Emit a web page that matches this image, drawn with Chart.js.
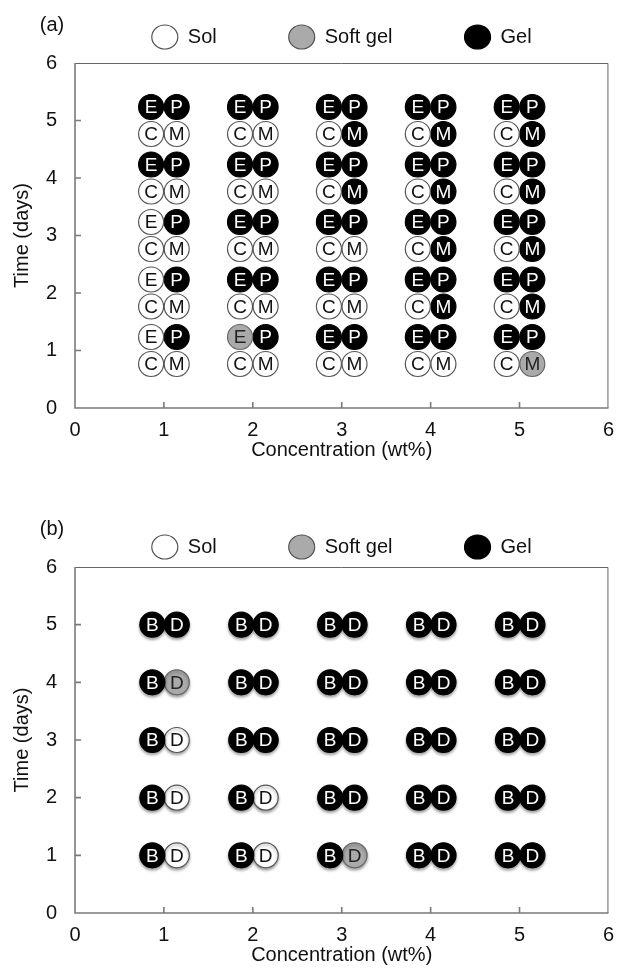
<!DOCTYPE html>
<html>
<head>
<meta charset="utf-8">
<script src="https://cdn.jsdelivr.net/npm/chart.js@4.4.1/dist/chart.umd.min.js"></script>
<style>
  body { margin: 0; background: #fff; }
  canvas { display: block; }
</style>
</head>
<body>
<canvas id="chartA" width="624" height="504"></canvas>
<canvas id="chartB" width="624" height="474"></canvas>
<script>
// concentrations (wt%) and days on the axes
var conc = [1, 2, 3, 4, 5];
var days = [1, 2, 3, 4, 5];
var tickValues = [0, 1, 2, 3, 4, 5, 6];

// state of each sample: one row per concentration, days 1..5
// 0 = sol, 1 = soft gel, 2 = gel
var stateE = [[0, 0, 0, 2, 2], [1, 2, 2, 2, 2], [2, 2, 2, 2, 2], [2, 2, 2, 2, 2], [2, 2, 2, 2, 2]];
var stateP = [[2, 2, 2, 2, 2], [2, 2, 2, 2, 2], [2, 2, 2, 2, 2], [2, 2, 2, 2, 2], [2, 2, 2, 2, 2]];
var stateC = [[0, 0, 0, 0, 0], [0, 0, 0, 0, 0], [0, 0, 0, 0, 0], [0, 0, 0, 0, 0], [0, 0, 0, 0, 0]];
var stateM = [[0, 0, 0, 0, 0], [0, 0, 0, 0, 0], [0, 0, 0, 2, 2], [0, 2, 2, 2, 2], [1, 2, 2, 2, 2]];
var stateB = [[2, 2, 2, 2, 2], [2, 2, 2, 2, 2], [2, 2, 2, 2, 2], [2, 2, 2, 2, 2], [2, 2, 2, 2, 2]];
var stateD = [[0, 0, 0, 1, 2], [0, 0, 2, 2, 2], [1, 2, 2, 2, 2], [2, 2, 2, 2, 2], [2, 2, 2, 2, 2]];

var stateNames = ["Sol", "Soft gel", "Gel"];
var stateFill = ["#ffffff", "#aaaaaa", "#000000"];
var stateBorder = ["#555555", "#666666", "#000000"];
var letterColor = ["#111111", "#222222", "#ffffff"];

var FONT = "'Liberation Sans', Arial, Helvetica, sans-serif";
var TEXT = "#111111";

function sampleDataset(letter, states, dx, dy) {
  var pts = [], flat = [];
  conc.forEach(function (c, i) {
    days.forEach(function (d, j) {
      pts.push({ x: c + dx, y: d + dy });
      flat.push(states[i][j]);
    });
  });
  return {
    label: letter,
    letter: letter,
    states: flat,
    data: pts,
    showLine: false,
    pointRadius: 12.5,
    pointHoverRadius: 12.5,
    pointBorderWidth: 1.2,
    pointBackgroundColor: flat.map(function (s) { return stateFill[s]; }),
    pointBorderColor: flat.map(function (s) { return stateBorder[s]; })
  };
}

// letters inside circles
var lettersPlugin = {
  id: 'letters',
  afterDatasetsDraw: function (chart) {
    var ctx = chart.ctx;
    ctx.save();
    ctx.font = "19px " + FONT;
    ctx.textAlign = 'center';
    ctx.textBaseline = 'middle';
    chart.data.datasets.forEach(function (ds, i) {
      chart.getDatasetMeta(i).data.forEach(function (el, j) {
        ctx.fillStyle = letterColor[ds.states[j]];
        ctx.fillText(ds.letter, el.x, el.y + 1);
      });
    });
    ctx.restore();
  }
};

// box frame and inward ticks
var framePlugin = {
  id: 'frame',
  beforeDatasetsDraw: function (chart) {
    var ctx = chart.ctx, a = chart.chartArea;
    var xs = chart.scales.x, ys = chart.scales.y;
    ctx.save();
    ctx.strokeStyle = '#666666';
    ctx.lineWidth = 1;
    ctx.beginPath();
    ctx.moveTo(a.left, a.top + 0.5);
    ctx.lineTo(a.right - 0.5, a.top + 0.5);
    ctx.lineTo(a.right - 0.5, a.bottom);
    ctx.stroke();
    ctx.strokeStyle = '#7a7a7a';
    ctx.lineWidth = 1.6;
    ctx.beginPath();
    ctx.moveTo(a.left, a.top);
    ctx.lineTo(a.left, a.bottom);
    ctx.lineTo(a.right, a.bottom);
    xs.ticks.forEach(function (t) {
      if (t.value <= xs.min || t.value >= xs.max) return;
      var px = xs.getPixelForValue(t.value);
      ctx.moveTo(px, a.bottom);
      ctx.lineTo(px, a.bottom - 6);
    });
    ys.ticks.forEach(function (t) {
      if (t.value <= ys.min || t.value >= ys.max) return;
      var py = ys.getPixelForValue(t.value);
      ctx.moveTo(a.left, py);
      ctx.lineTo(a.left + 6, py);
    });
    ctx.stroke();
    ctx.restore();
  }
};

function shadowPlugin(on) {
  return {
    id: 'shadow',
    beforeDatasetDraw: function (chart) {
      if (!on) return;
      var ctx = chart.ctx;
      ctx.save();
      ctx.shadowColor = 'rgba(0,0,0,0.35)';
      ctx.shadowBlur = 3;
      ctx.shadowOffsetY = 2;
    },
    afterDatasetDraw: function (chart) {
      if (on) chart.ctx.restore();
    }
  };
}

function tagPlugin(text, y) {
  return {
    id: 'tag',
    afterDraw: function (chart) {
      var ctx = chart.ctx;
      ctx.save();
      ctx.font = "20px " + FONT;
      ctx.fillStyle = TEXT;
      ctx.textAlign = 'center';
      ctx.textBaseline = 'middle';
      ctx.fillText(text, 52, y);
      ctx.restore();
    }
  };
}

function legendItems() {
  return stateNames.map(function (name, i) {
    return {
      text: name,
      fillStyle: stateFill[i],
      strokeStyle: i === 2 ? '#000' : '#555',
      lineWidth: 1.2,
      pointStyle: 'circle',
      fontColor: TEXT,
      hidden: false
    };
  });
}

function makeChart(id, tag, tagY, datasets, legendTop, gap, bottomPad, shadow) {
  var ctx = document.getElementById(id).getContext('2d');
  return new Chart(ctx, {
    type: 'scatter',
    data: { datasets: datasets },
    plugins: [framePlugin, shadowPlugin(shadow), lettersPlugin, tagPlugin(tag, tagY)],
    options: {
      responsive: false,
      animation: false,
      devicePixelRatio: 1,
      layout: { padding: { top: legendTop, right: 6, bottom: bottomPad, left: 0 } },
      plugins: {
        tooltip: { enabled: false },
        legend: {
          position: 'top',
          fullSize: false,
          onClick: function () {},
          labels: {
            usePointStyle: true,
            pointStyleWidth: 26,
            boxHeight: 17,
            padding: 72,
            color: TEXT,
            font: { family: FONT, size: 20 },
            generateLabels: legendItems
          }
        }
      },
      scales: {
        x: {
          type: 'linear', min: 0, max: 6,
          afterBuildTicks: function (s) { s.ticks = tickValues.map(function (v) { return { value: v }; }); },
          ticks: { stepSize: 1, padding: 10, color: TEXT, font: { family: FONT, size: 20 } },
          grid: { display: false, drawTicks: false },
          border: { display: false },
          title: { display: true, text: 'Concentration (wt%)', color: TEXT, font: { family: FONT, size: 20 }, padding: { top: 0, bottom: 11 } },
          afterFit: function (s) { s.height = 65; }
        },
        y: {
          type: 'linear', min: 0, max: 6,
          afterBuildTicks: function (s) { s.ticks = tickValues.map(function (v) { return { value: v }; }); },
          ticks: { stepSize: 1, padding: 18, color: TEXT, font: { family: FONT, size: 20 } },
          grid: { display: false, drawTicks: false },
          border: { display: false },
          title: { display: true, text: 'Time (days)', color: TEXT, font: { family: FONT, size: 20 }, padding: { top: 10, bottom: 0 } },
          afterFit: function (s) { s.width = 75; }
        },
        x2: {
          type: 'linear', position: 'top',
          ticks: { display: false },
          grid: { display: false, drawTicks: false },
          border: { display: false },
          afterFit: function (s) { s.height = gap; }
        }
      }
    }
  });
}

makeChart('chartA', '(a)', 25, [
  sampleDataset('E', stateE, -0.144, 0.235),
  sampleDataset('P', stateP, 0.144, 0.235),
  sampleDataset('C', stateC, -0.144, -0.235),
  sampleDataset('M', stateM, 0.144, -0.235)
], -45, 6, 31, false);

makeChart('chartB', '(b)', 25, [
  sampleDataset('B', stateB, -0.13, 0),
  sampleDataset('D', stateD, 0.145, 0)
], -39, 0, 0, true);
</script>
</body>
</html>
